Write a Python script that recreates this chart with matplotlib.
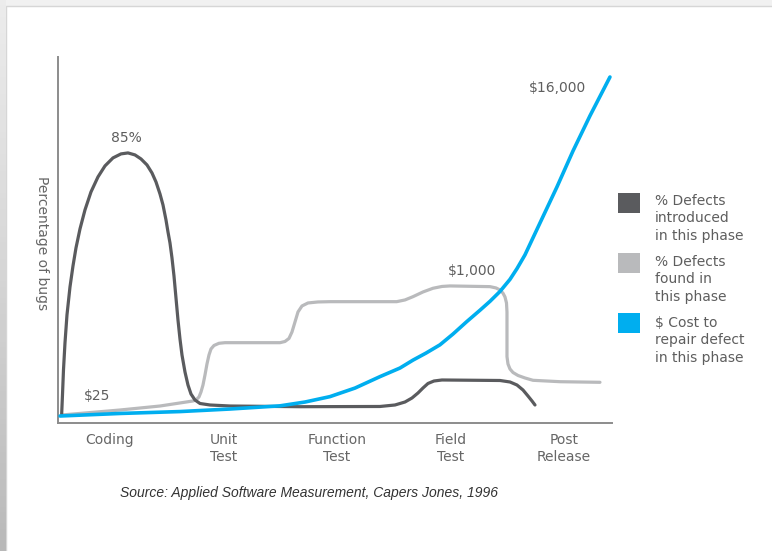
import numpy as np
import matplotlib.pyplot as plt
from matplotlib.patches import Rectangle

# Phases on the x axis (0..4) and curve heights in "percent of bugs" units
phases = ['Coding', 'Unit\nTest', 'Function\nTest', 'Field\nTest', 'Post\nRelease']

# % defects introduced in each phase (dark curve)
intro_x = [-0.4256, -0.4185, -0.4097, -0.3965, -0.3789, -0.3524, -0.3260, -0.2996, -0.2643, -0.2203,
           -0.1674, -0.1057, -0.0441, 0.0264, 0.0969, 0.1586, 0.2203, 0.2731, 0.3260, 0.3700,
           0.4053, 0.4405, 0.4670, 0.4934, 0.5110, 0.5286, 0.5463, 0.5639, 0.5815, 0.5991,
           0.6167, 0.6344, 0.6608, 0.6872, 0.7137, 0.7489, 0.7930, 0.8811, 1.0573, 1.6740,
           2.3789, 2.5110, 2.5991, 2.6608, 2.7137, 2.7577, 2.8018, 2.8546, 2.9251, 3.4361,
           3.5242, 3.5859, 3.6388, 3.6828, 3.7181, 3.7445]
intro_y = [2.83, 8.82, 16.69, 25.19, 34.01, 42.82, 49.43, 55.10, 61.08, 67.07,
           72.73, 77.46, 80.92, 83.44, 84.70, 85.01, 84.38, 83.12, 81.23, 78.71,
           75.88, 72.10, 68.64, 63.92, 60.14, 56.68, 51.95, 46.28, 39.36, 32.43,
           26.45, 21.41, 16.06, 11.96, 9.13, 7.24, 6.14, 5.67, 5.35, 5.13,
           5.20, 5.67, 6.61, 7.87, 9.45, 11.02, 12.44, 13.22, 13.54, 13.38,
           12.91, 11.96, 10.39, 8.50, 6.93, 5.67]

# % defects found in each phase (light curve)
found_x = [-0.4256, 0.088, 0.441, 0.731, 0.7577, 0.7841, 0.8018, 0.8194, 0.8370, 0.8546,
           0.8722, 0.8899, 0.9163, 0.9604, 1.0132, 1.498, 1.5419, 1.5771, 1.6035, 1.6300,
           1.6564, 1.6916, 1.7445, 1.8326, 1.938, 2.526, 2.599, 2.670, 2.758, 2.846,
           2.9251, 2.996, 3.348, 3.4009, 3.4361, 3.463, 3.4802, 3.4934, 3.4978, 3.4978,
           3.5066, 3.5242, 3.5507, 3.5947, 3.6564, 3.7269, 3.965, 4.317]
found_y = [2.52, 4.09, 5.35, 6.93, 7.24, 8.19, 9.76, 11.96, 15.11, 18.58,
           21.41, 23.30, 24.40, 25.09, 25.28, 25.28, 25.66, 26.61, 28.65, 31.80,
           34.95, 36.84, 37.78, 38.10, 38.19, 38.19, 38.73, 39.77, 41.25, 42.41,
           42.98, 43.14, 42.92, 42.51, 41.88, 40.84, 39.67, 37.78, 34.95, 20.88,
           18.58, 17.00, 15.90, 14.96, 14.17, 13.44, 13.00, 12.81]

# $ cost to repair a defect (blue curve)
cost_x = [-0.440, 0.088, 0.617, 1.057, 1.498, 1.718, 1.938, 2.159, 2.379, 2.555,
          2.670, 2.784, 2.907, 3.022, 3.143, 3.260, 3.348, 3.436, 3.524, 3.586,
          3.656, 3.789, 3.938, 4.079, 4.229, 4.405]
cost_y = [2.2, 3.0, 3.6, 4.4, 5.4, 6.6, 8.3, 11.0, 14.6, 17.3,
          19.8, 22.0, 24.6, 28.0, 31.9, 35.5, 38.3, 41.4, 45.2, 48.6,
          52.9, 63.0, 74.3, 85.6, 96.7, 108.9]

DARK = '#5a5b5e'
LIGHT = '#b9babc'
BLUE = '#00aeef'
TXT = '#5e5e5e'

fig = plt.figure(figsize=(7.72, 5.51), dpi=100, facecolor='#f1f1f1')

# slide frame: grey gradient strip on the left, white page behind everything
strip = fig.add_axes([0, 0, 6 / 772, 1])
strip.imshow(np.linspace(0, 1, 100).reshape(-1, 1), cmap='Greys', vmin=-0.6, vmax=3.5,
             aspect='auto', origin='upper')
strip.axis('off')
fig.patches.append(Rectangle((6 / 772, -0.01), 1, 1 - 6 / 551 + 0.01, transform=fig.transFigure,
                             facecolor='white', edgecolor='#d6d6d6', lw=1, zorder=-5))

ax = fig.add_axes([58 / 772, 1 - 423 / 551, (612 - 58) / 772, (423 - 57) / 551])
ax.set_zorder(2)
ax.set_facecolor('none')
ax.plot(found_x, found_y, color=LIGHT, lw=2.3, solid_capstyle='round', solid_joinstyle='round', zorder=2)
ax.plot(intro_x, intro_y, color=DARK, lw=2.3, solid_capstyle='round', solid_joinstyle='round', zorder=3)
ax.plot(cost_x, cost_y, color=BLUE, lw=2.6, solid_capstyle='round', solid_joinstyle='round', zorder=4)

ax.set_xlim(-0.458, 4.423)
ax.set_ylim(0, 115.2)
ax.set_xticks(range(len(phases)))
ax.set_xticklabels(phases, fontsize=10, color='#666666', linespacing=1.3)
ax.tick_params(axis='x', length=0, pad=7)
ax.set_yticks([])
for s in ['top', 'right']:
    ax.spines[s].set_visible(False)
for s in ['left', 'bottom']:
    ax.spines[s].set_color('#8c8c8c')
    ax.spines[s].set_linewidth(1.4)

ax.text(0.141, 89.7, '85%', ha='center', va='center', fontsize=10, color=TXT)
ax.text(-0.115, 8.5, '$25', ha='center', va='center', fontsize=10, color=TXT)
ax.text(3.189, 47.9, '$1,000', ha='center', va='center', fontsize=10, color=TXT)
ax.text(3.947, 105.5, '$16,000', ha='center', va='center', fontsize=10, color=TXT)

fig.text(42 / 772, 1 - 243 / 551, 'Percentage of bugs', rotation=-90, ha='center', va='center',
         fontsize=10, color='#666666')

# legend
legend_items = [
    (DARK, 213, 194, '% Defects\nintroduced\nin this phase'),
    (LIGHT, 273, 255, '% Defects\nfound in\nthis phase'),
    (BLUE, 333, 316, '$ Cost to\nrepair defect\nin this phase'),
]
for col, ybot, ytop, label in legend_items:
    fig.patches.append(Rectangle((618 / 772, 1 - ybot / 551), 22 / 772, 20 / 551,
                                 transform=fig.transFigure, facecolor=col, edgecolor='none'))
    fig.text(655 / 772, 1 - ytop / 551, label, ha='left', va='top', fontsize=10,
             color=TXT, linespacing=1.3)

fig.text(309 / 772, 1 - 493 / 551, 'Source: Applied Software Measurement, Capers Jones, 1996',
         ha='center', va='center', fontsize=10, style='italic', color='#333333',
         family='Liberation Sans')

fig.savefig('out.png', dpi=100, facecolor=fig.get_facecolor())
